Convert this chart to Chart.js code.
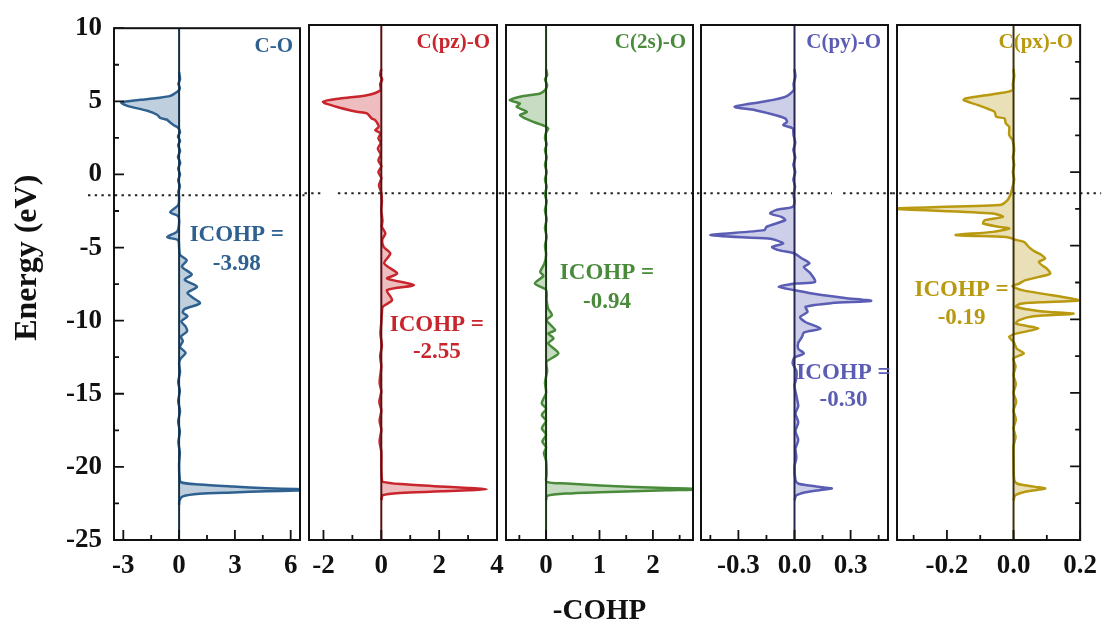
<!DOCTYPE html>
<html><head><meta charset="utf-8">
<script src="https://cdn.jsdelivr.net/npm/chart.js@4.4.1/dist/chart.umd.min.js"></script>
<style>
html,body{margin:0;padding:0;background:#fff;}
#wrap{position:relative;width:1107px;height:626px;overflow:hidden;background:#fff;}
#wrap canvas{position:absolute;top:0;}
</style></head><body><div id="wrap"></div>
<script>
const FONT = "'Liberation Serif','Times New Roman',Times,serif";
const FERMI = -1.43;
const Y_MIN = -25, Y_MAX = 10;
const yMajor = [10, 5, 0, -5, -10, -15, -20, -25];
const yLabels = ['10', '5', '0', '-5', '-10', '-15', '-20', '-25'];
const yMinor = [7.5, 2.5, -2.5, -7.5, -12.5, -17.5, -22.5];
const yTitle = 'Energy (eV)';
const xTitle = '-COHP';

// ---- C-O ----
const coEnergy = [7.0,6.5,6.2,5.9,5.71,5.37,5.23,5.10,4.96,4.89,4.69,4.35,4.08,3.87,3.74,3.67,3.40,3.19,2.9,2.6,2.3,2.0,1.6,1.2,0.8,0.4,0.0,-0.4,-0.8,-1.2,-1.6,-2.1,-2.58,-2.85,-3.3,-3.9,-4.28,-4.5,-5.0,-5.5,-5.87,-6.3,-6.84,-7.2,-7.68,-8.1,-8.4,-8.81,-9.2,-9.45,-9.7,-10.06,-10.4,-10.74,-11.08,-11.4,-11.8,-12.2,-12.6,-12.9,-13.5,-14.2,-14.8,-15.5,-16.2,-16.9,-17.6,-18.3,-19.0,-19.8,-20.6,-21.05,-21.2,-21.34,-21.46,-21.52,-21.57,-21.62,-21.67,-21.75,-21.84,-22.02,-22.3,-22.6];
const coCohp   = [0,0.05,-0.04,0.04,-0.05,-0.48,-1.18,-2.09,-2.99,-3.1,-2.78,-1.71,-1.18,-1.02,-0.64,-0.59,-0.32,-0.05,0.05,-0.06,0.05,-0.05,0.05,-0.06,0.06,-0.05,0.05,-0.05,0.04,-0.04,0,-0.05,-0.48,-0.05,0,-0.1,-0.64,-0.05,0,0.05,0.41,0.15,0.68,0.3,0.96,0.45,0.7,1.12,0.3,0.2,0.45,0.12,0.35,0.42,0.1,0.2,0.05,0.35,0.08,0,0.05,-0.05,0.04,-0.05,0.05,-0.05,0.04,-0.04,0.04,0,0.02,0.1,1.1,2.9,4.7,6.3,7.5,6.3,4.7,2.9,1.1,0.2,0.02,0];

// ---- C(pz)-O ----
const pzEnergy = [7.0,6.6,6.3,6.0,5.57,5.23,5.01,4.78,4.44,4.10,3.99,3.65,3.53,3.08,2.85,2.63,2.3,2.0,1.6,1.2,0.8,0.4,0.0,-0.4,-0.9,-1.4,-2.0,-2.6,-3.3,-3.72,-4.17,-4.6,-5.08,-5.53,-6.2,-6.89,-7.23,-7.68,-8.02,-8.7,-9.15,-9.6,-10.2,-11.0,-11.8,-12.5,-13.2,-14.3,-14.9,-15.6,-16.2,-16.9,-17.5,-18.3,-19.0,-20.0,-20.9,-21.05,-21.2,-21.34,-21.46,-21.55,-21.62,-21.71,-21.8,-21.96,-22.3];
const pzCohp   = [0,-0.04,0.03,-0.04,-0.03,-0.5,-1.43,-2.02,-1.55,-0.85,-0.5,-0.33,-0.21,-0.09,-0.21,-0.03,-0.1,-0.02,-0.12,-0.02,-0.1,0,-0.1,0,-0.08,0,0.02,0,0.04,0.02,0.14,0.03,0.08,0.31,0.1,0.55,0.2,1.13,0.2,0.37,0.05,0.02,0,-0.03,0.02,-0.04,0,-0.06,0,-0.07,0,-0.06,0,-0.06,0,0,0.02,0.05,0.66,1.83,3.0,3.64,3.0,1.83,0.66,0.05,0];

// ---- C(2s)-O ----
const sEnergy = [7.0,6.6,6.3,5.9,5.57,5.35,5.12,4.89,4.67,4.44,4.10,3.87,3.65,3.42,3.13,2.97,2.7,2.3,1.9,1.5,1.0,0.5,0.0,-0.5,-1.0,-1.5,-2.0,-2.6,-3.2,-3.8,-4.4,-5.0,-5.6,-6.2,-6.78,-7.05,-7.57,-8.0,-8.7,-9.27,-9.72,-10.06,-10.74,-10.97,-11.3,-11.64,-12.32,-12.89,-13.5,-14.3,-15.0,-15.7,-16.1,-16.5,-16.9,-17.4,-17.85,-18.3,-18.7,-19.1,-19.6,-20.5,-21.05,-21.16,-21.3,-21.39,-21.46,-21.55,-21.62,-21.68,-21.75,-21.84,-22.0,-22.3];
const sCohp   = [0,0.02,-0.02,0.02,-0.02,-0.11,-0.49,-0.68,-0.49,-0.55,-0.36,-0.49,-0.39,-0.24,-0.02,0.04,0,-0.02,0.01,-0.02,0.01,-0.02,0.01,-0.02,0.01,-0.02,0.01,-0.02,0.01,-0.02,0.01,-0.02,0,-0.03,-0.11,-0.05,-0.21,0,0.01,0.04,0.11,0.01,0.17,0.04,0.14,0.04,0.23,0.01,0.02,-0.02,0,-0.08,0,-0.08,0,-0.08,0,-0.07,0,-0.04,0,0.01,0.01,0.39,1.01,1.64,2.26,2.95,2.26,1.64,1.01,0.39,0.02,0];

// ---- C(py)-O ----
const pyEnergy = [7.0,6.5,6.0,5.57,5.12,4.78,4.44,4.21,3.87,3.65,3.42,3.19,2.97,2.5,2.0,1.5,1.0,0.5,0.0,-0.5,-1.0,-1.5,-2.0,-2.36,-2.58,-2.81,-3.04,-3.26,-3.72,-3.94,-4.28,-4.51,-4.62,-4.85,-5.08,-5.3,-5.53,-5.87,-6.2,-6.44,-6.89,-7.46,-7.57,-7.8,-8.02,-8.3,-8.55,-8.75,-8.9,-9.15,-9.5,-9.85,-10.2,-10.63,-10.9,-11.2,-11.6,-12.0,-12.32,-12.6,-13.0,-13.5,-14.0,-14.5,-15.2,-15.9,-16.4,-17.0,-17.6,-18.2,-18.8,-19.4,-20.0,-20.9,-21.16,-21.3,-21.42,-21.5,-21.6,-21.75,-21.96,-22.3];
const pyCohp   = [0,0.005,-0.005,-0.004,-0.05,-0.17,-0.32,-0.21,-0.1,-0.05,-0.04,-0.06,-0.01,-0.005,0.004,-0.006,0.004,-0.006,0.004,-0.006,0.003,-0.005,0,-0.01,-0.1,-0.13,-0.07,-0.05,-0.15,-0.16,-0.45,-0.14,-0.1,-0.06,-0.12,-0.085,0,0.04,0.08,0.05,0.086,0.11,0.005,-0.085,0,0.12,0.27,0.41,0.2,0.06,0.07,0.03,0.06,0.14,0.05,0.04,0.02,0.02,0.05,0,-0.01,0.01,0.01,0,0.01,0.02,0.005,0.02,0.005,0.02,0.005,0.01,0,0.005,0.02,0.08,0.15,0.2,0.14,0.06,0.01,0];

// ---- C(px)-O ----
const pxEnergy = [7.0,6.5,6.0,5.57,5.35,5.01,4.89,4.55,4.1,3.76,3.65,3.31,3.08,2.52,2.17,1.5,1.0,0.5,0.0,-0.5,-1.0,-1.45,-1.9,-2.24,-2.47,-2.81,-3.04,-3.26,-3.49,-3.72,-3.83,-4.06,-4.28,-4.4,-4.51,-4.58,-4.74,-4.96,-5.19,-5.42,-5.57,-5.87,-6.1,-6.32,-6.55,-6.89,-7.12,-7.34,-7.57,-7.75,-8.02,-8.59,-8.72,-8.85,-8.95,-9.15,-9.45,-9.62,-9.8,-10.06,-10.3,-10.62,-10.96,-11.19,-11.53,-12.0,-12.32,-12.66,-13.2,-13.8,-14.4,-15.0,-15.6,-16.2,-16.8,-17.4,-18.0,-18.6,-19.5,-20.9,-21.16,-21.3,-21.42,-21.5,-21.6,-21.75,-21.96,-22.3];
const pxCohp   = [0,0.002,-0.002,-0.003,-0.047,-0.145,-0.15,-0.106,-0.057,-0.052,-0.027,-0.023,-0.013,-0.013,-0.003,0.002,-0.002,0.002,-0.002,0.002,-0.003,-0.008,-0.018,-0.042,-0.36,-0.062,-0.032,-0.086,-0.091,-0.042,-0.013,-0.062,-0.174,-0.023,-0.003,0.002,0.031,0.041,0.051,0.066,0.08,0.095,0.076,0.085,0.1,0.11,0.076,0.036,0.017,-0.003,0.026,0.174,0.195,0.08,0.02,0.007,0.08,0.18,0.06,0.017,0.007,0.075,0.01,-0.013,0,0.01,0.031,0,0.006,0,0.007,0,0.008,0,0.007,0,0.006,0,0,0.002,0.01,0.04,0.075,0.095,0.07,0.03,0.005,0];

// x-axis ticks per panel
const coTicks = [-3, 0, 3, 6],        coTickLabels = ['-3', '0', '3', '6'],        coMinor = [-1.5, 1.5, 4.5];
const pzTicks = [-2, 0, 2, 4],        pzTickLabels = ['-2', '0', '2', '4'],        pzMinor = [-1, 1, 3];
const sTicks  = [0, 1, 2],            sTickLabels  = ['0', '1', '2'],              sMinor  = [-0.5, 0.5, 1.5, 2.5];
const pyTicks = [-0.3, 0, 0.3],       pyTickLabels = ['-0.3', '0.0', '0.3'],       pyMinor = [-0.45, -0.15, 0.15, 0.45];
const pxTicks = [-0.2, 0, 0.2],       pxTickLabels = ['-0.2', '0.0', '0.2'],       pxMinor = [-0.3, -0.1, 0.1];

const panelNames = ['C-O', 'C(pz)-O', 'C(2s)-O', 'C(py)-O', 'C(px)-O'];
const icohpValues = ['-3.98', '-2.55', '-0.94', '-0.30', '-0.19'];

const panels = [
  { key:'co', name:panelNames[0], icohp:icohpValues[0], E:coEnergy, V:coCohp, xMin:-3.5, xMax:6.5, ticks:coTicks, labels:coTickLabels, minor:coMinor,
    color:'#2E6190', zero:'#13304a', left:0, width:320, padL:0, padR:20, extL:26, extR:4.5, gap:null, yTicks:'left', annX:3.1, annY1:-4.15, annY2:-6.12 },
  { key:'pz', name:panelNames[1], icohp:icohpValues[1], E:pzEnergy, V:pzCohp, xMin:-2.5, xMax:4, ticks:pzTicks, labels:pzTickLabels, minor:pzMinor,
    color:'#C8252C', zero:'#5c0f12', left:289, width:228, padL:20, padR:20, extL:4.5, extR:4.5, gap:[-2.03, -1.5], yTicks:null, annX:1.92, annY1:-10.4, annY2:-12.24 },
  { key:'s', name:panelNames[2], icohp:icohpValues[2], E:sEnergy, V:sCohp, xMin:-0.75, xMax:2.75, ticks:sTicks, labels:sTickLabels, minor:sMinor,
    color:'#4A8B3B', zero:'#183a12', left:486, width:227, padL:20, padR:20, extL:4.5, extR:4, gap:[0.64, 0.83], yTicks:null, annX:1.14, annY1:-6.87, annY2:-8.84, xTitle:true },
  { key:'py', name:panelNames[3], icohp:icohpValues[3], E:pyEnergy, V:pyCohp, xMin:-0.5, xMax:0.5, ticks:pyTicks, labels:pyTickLabels, minor:pyMinor,
    color:'#5B5CB4', zero:'#262654', left:681, width:227, padL:20, padR:20, extL:4, extR:4.5, gap:[0.2, 0.26], yTicks:null, annX:0.262, annY1:-13.66, annY2:-15.5 },
  { key:'px', name:panelNames[4], icohp:icohpValues[4], E:pxEnergy, V:pxCohp, xMin:-0.35, xMax:0.2, ticks:pxTicks, labels:pxTickLabels, minor:pxMinor,
    color:'#B8990F', zero:'#3d3205', left:877, width:230, padL:20, padR:23, extL:4.5, extR:21, gap:null, yTicks:'right', annX:-0.156, annY1:-8.02, annY2:-9.93 }
];

function rgba(hex, a) {
  const n = parseInt(hex.slice(1), 16);
  return `rgba(${(n >> 16) & 255},${(n >> 8) & 255},${n & 255},${a})`;
}

function makeDecor(p, first) {
  return {
    id: 'decor_' + p.key,
    afterDatasetsDraw(chart) {
      const { ctx, chartArea: a } = chart;
      const x = chart.scales.x, y = chart.scales.y;
      ctx.save();
      // Fermi level dotted line
      const fy = y.getPixelForValue(FERMI);
      ctx.strokeStyle = '#222';
      ctx.lineWidth = 2;
      ctx.setLineDash([2.4, 4.3]);
      ctx.beginPath();
      const x0 = a.left - p.extL, x1 = a.right + p.extR;
      if (p.gap) {
        const g0 = x.getPixelForValue(p.gap[0]), g1 = x.getPixelForValue(p.gap[1]);
        ctx.moveTo(x0, fy); ctx.lineTo(g0, fy);
        ctx.moveTo(g1, fy); ctx.lineTo(x1, fy);
      } else {
        ctx.moveTo(x0, fy); ctx.lineTo(x1, fy);
      }
      ctx.stroke();
      ctx.setLineDash([]);
      // frame
      ctx.strokeStyle = '#111';
      ctx.lineWidth = 2;
      ctx.strokeRect(a.left, a.top, a.right - a.left, a.bottom - a.top);
      // inward ticks
      ctx.lineWidth = 1.8;
      ctx.beginPath();
      p.ticks.forEach(v => { const px = x.getPixelForValue(v); ctx.moveTo(px, a.bottom); ctx.lineTo(px, a.bottom - 10); });
      p.minor.forEach(v => { const px = x.getPixelForValue(v); ctx.moveTo(px, a.bottom); ctx.lineTo(px, a.bottom - 5); });
      if (p.yTicks) {
        const edge = p.yTicks === 'left' ? a.left : a.right;
        const dir = p.yTicks === 'left' ? 1 : -1;
        yMajor.forEach(v => { const py = y.getPixelForValue(v); ctx.moveTo(edge, py); ctx.lineTo(edge + dir * 10, py); });
        yMinor.forEach(v => { const py = y.getPixelForValue(v); ctx.moveTo(edge, py); ctx.lineTo(edge + dir * 5, py); });
      }
      ctx.stroke();
      // panel label
      ctx.fillStyle = p.color;
      ctx.font = `bold 21px ${FONT}`;
      ctx.textAlign = 'right';
      ctx.textBaseline = 'middle';
      ctx.fillText(p.name, a.right - 7, a.top + 18);
      // ICOHP annotation
      ctx.font = `bold 23px ${FONT}`;
      ctx.textAlign = 'center';
      const ax = x.getPixelForValue(p.annX);
      ctx.fillText('ICOHP =', ax, y.getPixelForValue(p.annY1));
      ctx.fillText(p.icohp, ax, y.getPixelForValue(p.annY2));
      // shared energy-axis title (first panel only)
      if (first) {
        ctx.fillStyle = '#111';
        ctx.font = `bold 32px ${FONT}`;
        ctx.textAlign = 'center';
        ctx.textBaseline = 'alphabetic';
        ctx.translate(36, (y.getPixelForValue(-4.8) + y.getPixelForValue(-6.6)) / 2);
        ctx.rotate(-Math.PI / 2);
        ctx.fillText(yTitle, 0, 0);
      }
      ctx.restore();
    }
  };
}

const wrap = document.getElementById('wrap');
panels.forEach((p, idx) => {
  const c = document.createElement('canvas');
  c.width = p.width; c.height = 626;
  c.style.left = p.left + 'px';
  c.style.width = p.width + 'px';
  c.style.height = '626px';
  wrap.appendChild(c);
  const first = idx === 0;
  new Chart(c, {
    type: 'line',
    data: {
      datasets: [
        { data: [{ x: 0, y: Y_MIN }, { x: 0, y: Y_MAX }], borderColor: p.zero, borderWidth: 2, pointRadius: 0, fill: false, tension: 0 },
        { data: p.E.map((e, i) => ({ x: p.V[i], y: e })), borderColor: p.color, backgroundColor: rgba(p.color, 0.3),
          borderWidth: 2.5, pointRadius: 0, fill: 'origin', tension: 0.25 }
      ]
    },
    options: {
      indexAxis: 'y',
      responsive: false,
      animation: false,
      events: [],
      layout: { padding: { left: p.padL, right: p.padR, top: 25, bottom: 0 } },
      plugins: { legend: { display: false }, tooltip: { enabled: false } },
      scales: {
        x: {
          type: 'linear', position: 'bottom', min: p.xMin, max: p.xMax,
          grid: { display: false, drawTicks: false }, border: { display: false },
          afterBuildTicks: s => { s.ticks = p.ticks.map(v => ({ value: v })); },
          afterFit: s => { s.height = 86; },
          ticks: { autoSkip: false, maxRotation: 0, minRotation: 0, padding: 10, color: '#111',
            font: { family: FONT, size: 27, weight: 'bold' }, callback: (v, i) => p.labels[i] },
          title: { display: !!p.xTitle, text: xTitle, color: '#111', padding: { top: 0, bottom: 0 },
            font: { family: FONT, size: 29, weight: 'bold', lineHeight: 1 } }
        },
        y: {
          type: 'linear', position: 'left', min: Y_MIN, max: Y_MAX, display: first,
          grid: { display: false, drawTicks: false }, border: { display: false },
          afterBuildTicks: s => { s.ticks = yMajor.map(v => ({ value: v })); },
          afterFit: s => { if (first) s.width = 114; },
          ticks: { autoSkip: false, padding: 12, color: '#111',
            font: { family: FONT, size: 27, weight: 'bold' }, callback: (v, i) => yLabels[i] },
          title: { display: false, text: yTitle }
        }
      }
    },
    plugins: [makeDecor(p, first)]
  });
});
</script></body></html>
